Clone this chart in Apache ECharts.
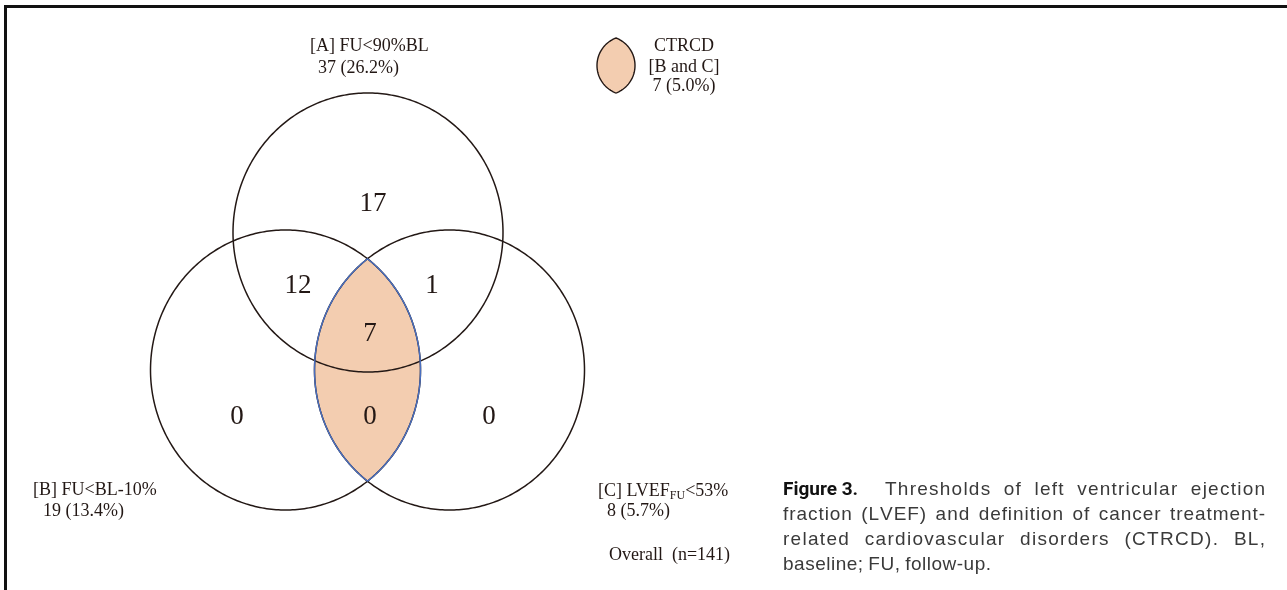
<!DOCTYPE html>
<html>
<head>
<meta charset="utf-8">
<script src="https://cdn.jsdelivr.net/npm/echarts@6/dist/echarts.min.js"></script>
<style>
  html, body { margin: 0; padding: 0; background: #fff; }
  #chart { width: 1287px; height: 590px; }
</style>
</head>
<body>
<div id="chart"></div>
<script>
// sets
const setKeys = ['A', 'B', 'C'];
const setCriteria = ['FU<90%BL', 'FU<BL-10%', 'LVEF_FU<53%'];
const setCounts = [37, 19, 8];
const setPercents = [26.2, 13.4, 5.7];

// venn regions
const regionNames = ['A only', 'A and B', 'A and C', 'A, B and C', 'B only', 'B and C', 'C only'];
const regionCounts = [17, 12, 1, 7, 0, 0, 0];

const ctrcdCount = 7;
const ctrcdPercent = 5.0;
const overallN = 141;

// layout, axes map 1:1 on pixels
const circleX = [368, 285.5, 449.5];
const circleY = [232.5, 370, 370];
const circleRx = [135, 135, 135];
const circleRy = [139.5, 140, 140];
const regionX = [373, 298, 432, 370, 237, 370, 489];
const regionY = [204, 286, 286, 334, 417, 417, 417];

const serif = '"Liberation Serif", "Times New Roman", serif';
const ink = '#231815';

function ellipsePoints(i, n, from, to) {
  const pts = [];
  for (let k = 0; k <= n; k++) {
    const t = from + (to - from) * k / n;
    pts.push([circleX[i] + circleRx[i] * Math.cos(t), circleY[i] + circleRy[i] * Math.sin(t)]);
  }
  return pts;
}
function inside(i, p) {
  const dx = (p[0] - circleX[i]) / circleRx[i], dy = (p[1] - circleY[i]) / circleRy[i];
  return dx * dx + dy * dy <= 1;
}
// B ∩ C lens: right arc of B (top -> bottom), then left arc of C (bottom -> top)
function lensPoints() {
  const b = ellipsePoints(1, 720, -Math.PI, Math.PI).filter(p => inside(2, p));
  const c = ellipsePoints(2, 720, 0, 2 * Math.PI).filter(p => inside(1, p));
  return b.concat(c);
}

const measureCtx = document.createElement('canvas').getContext('2d');
function textWidth(text, font) {
  measureCtx.font = font;
  return measureCtx.measureText(text).width;
}

function label(text, x, y, extra) {
  return {
    type: 'text', x: x, y: y, z: 10,
    style: Object.assign({
      text: text, fontFamily: serif, fontSize: 18, fill: ink,
      align: 'left', verticalAlign: 'middle'
    }, extra || {})
  };
}

const graphics = [];
// frame
graphics.push({ type: 'line', shape: { x1: 4, y1: 6.5, x2: 1287, y2: 6.5 }, style: { stroke: '#111', lineWidth: 3 } });
graphics.push({ type: 'line', shape: { x1: 5.5, y1: 5, x2: 5.5, y2: 590 }, style: { stroke: '#111', lineWidth: 3 } });

// set labels
const pct = v => v.toFixed(1) + '%';
graphics.push(label('[' + setKeys[0] + '] ' + setCriteria[0], 310, 46));
graphics.push(label(setCounts[0] + ' (' + pct(setPercents[0]) + ')', 318, 68));
graphics.push(label('[' + setKeys[1] + '] ' + setCriteria[1], 33, 490));
graphics.push(label(setCounts[1] + ' (' + pct(setPercents[1]) + ')', 43, 511));

const cParts = setCriteria[2].match(/^(.*)_([A-Z]+)(.*)$/);
const serif18 = '18px ' + serif, serif12 = '12px ' + serif;
let cx = 598;
const cMain = '[' + setKeys[2] + '] ' + cParts[1];
graphics.push(label(cMain, cx, 491));
cx += textWidth(cMain, serif18);
graphics.push(label(cParts[2], cx, 496, { fontSize: 12 }));
cx += textWidth(cParts[2], serif12);
graphics.push(label(cParts[3], cx, 491));
graphics.push(label(setCounts[2] + ' (' + pct(setPercents[2]) + ')', 607, 511));
graphics.push(label('Overall  (n=' + overallN + ')', 609, 555));

// CTRCD key
graphics.push(label('CTRCD', 684, 46, { align: 'center' }));
graphics.push(label('[B and C]', 684, 67, { align: 'center' }));
graphics.push(label(ctrcdCount + ' (' + pct(ctrcdPercent) + ')', 684, 86, { align: 'center' }));
(function () {
  const mx = 616, my = 65.5, hw = 19, hh = 27.5;
  const R = (hh * hh + hw * hw) / (2 * hw), d = R - hw;
  const a = Math.asin(hh / R), pts = [];
  for (let k = 0; k <= 60; k++) {            // right edge arc
    const t = -a + 2 * a * k / 60;
    pts.push([mx - d + R * Math.cos(t), my + R * Math.sin(t)]);
  }
  for (let k = 0; k <= 60; k++) {            // left edge arc
    const t = Math.PI - a + 2 * a * k / 60;
    pts.push([mx + d + R * Math.cos(t), my + R * Math.sin(t)]);
  }
  graphics.push({ type: 'polygon', shape: { points: pts }, style: { fill: '#f3cdb0', stroke: ink, lineWidth: 1.4 } });
})();

// caption: justified with word + letter spacing, like the typeset original
const capFamily = '"Liberation Sans", Arial, sans-serif';
const capSize = 19;
const capFont = capSize + 'px ' + capFamily;
const capLines = [
  'Thresholds of left ventricular ejection',
  'fraction (LVEF) and definition of cancer treatment-',
  'related cardiovascular disorders (CTRCD). BL,',
  'baseline; FU, follow-up.'
];
const capY = [490, 515, 540, 565];
const capLeft = 783, capRight = 1265, baseTrack = 0.5;

graphics.push({
  type: 'text', x: capLeft, y: capY[0], z: 10,
  style: { text: 'Figure 3.', fontFamily: 'Roboto, "Liberation Sans", sans-serif', fontSize: 19, fontWeight: 'bold', fill: '#111', align: 'left', verticalAlign: 'middle' }
});

capLines.forEach((line, li) => {
  const x0 = li === 0 ? 885 : capLeft;
  const words = line.split(' ');
  const spaceW = textWidth(' ', capFont);
  const charW = words.map(w => Array.from(w).map(ch => textWidth(ch, capFont)));
  const wordW = charW.map(cw => cw.reduce((s, v) => s + v, 0) + baseTrack * (cw.length - 1));
  const natural = wordW.reduce((s, v) => s + v, 0) + spaceW * (words.length - 1);
  const letterGaps = charW.reduce((s, cw) => s + cw.length - 1, 0);
  const justify = li < capLines.length - 1;
  const E = justify ? capRight - x0 - natural : 0;
  const addWord = justify ? E * 0.6 / (words.length - 1) : 0;
  const addLetter = justify ? E * 0.4 / letterGaps : 0;
  let x = x0;
  words.forEach((w, wi) => {
    Array.from(w).forEach((ch, ci) => {
      graphics.push({
        type: 'text', x: x, y: capY[li], z: 10,
        style: { text: ch, fontFamily: capFamily, fontSize: capSize, fill: '#3a3a3a', align: 'left', verticalAlign: 'middle' }
      });
      x += charW[wi][ci] + (ci < w.length - 1 ? baseTrack + addLetter : 0);
    });
    x += spaceW + addWord;
  });
});

const chart = echarts.init(document.getElementById('chart'), null, { renderer: 'canvas' });
chart.setOption({
  animation: false,
  grid: { left: 0, right: 0, top: 0, bottom: 0 },
  xAxis: { type: 'value', min: 0, max: 1287, show: false },
  yAxis: { type: 'value', min: 0, max: 590, inverse: true, show: false },
  graphic: graphics,
  series: [
    {
      name: 'CTRCD fill',
      type: 'custom', z: 1, silent: true,
      data: [{ name: 'B and C', value: [0, 0] }],
      renderItem: (params, api) => ({
        type: 'polygon',
        shape: { points: lensPoints().map(p => api.coord(p)) },
        style: { fill: '#f3cdb0', stroke: 'none' }
      })
    },
    {
      name: 'sets',
      type: 'custom', z: 2, silent: true,
      data: setKeys.map((k, i) => ({ name: k, value: [circleX[i], circleY[i]] })),
      renderItem: (params, api) => ({
        type: 'polygon',
        shape: { points: ellipsePoints(params.dataIndex, 360, 0, 2 * Math.PI).map(p => api.coord(p)) },
        style: { fill: 'none', stroke: ink, lineWidth: 1.5 }
      })
    },
    {
      name: 'CTRCD edge',
      type: 'custom', z: 3, silent: true,
      data: [{ name: 'B and C', value: [0, 0] }],
      renderItem: (params, api) => ({
        type: 'polygon',
        shape: { points: lensPoints().map(p => api.coord(p)) },
        style: { fill: 'none', stroke: '#4a6fc0', lineWidth: 1.4 }
      })
    },
    {
      name: 'regions',
      type: 'custom', z: 4, silent: true,
      data: regionCounts.map((c, i) => ({ name: regionNames[i], value: [regionX[i], regionY[i], c] })),
      renderItem: (params, api) => {
        const p = api.coord([api.value(0), api.value(1)]);
        return {
          type: 'text', x: p[0], y: p[1],
          style: {
            text: String(api.value(2)), fontFamily: serif, fontSize: 27, fill: ink,
            align: 'center', verticalAlign: 'middle'
          }
        };
      }
    }
  ]
});
</script>
</body>
</html>
